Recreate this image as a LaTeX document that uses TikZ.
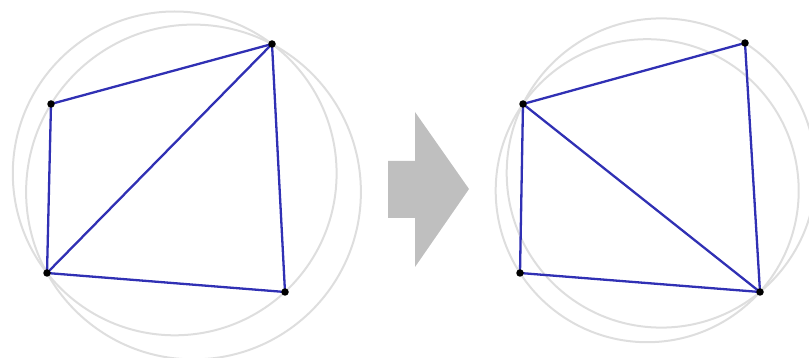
\documentclass[tikz,border=0pt]{standalone}
\begin{document}
\begin{tikzpicture}[x=1pt,y=-1pt,
  circ/.style={draw=black!13, line width=2pt},
  edge/.style={draw={rgb,255:red,48;green,48;blue,180}, line width=2.3pt},
  dot/.style={circle, fill=black, inner sep=0pt, minimum size=7.5pt},
  bigarrow/.style={fill=black!25, draw=none}]
\useasboundingbox (0,0) rectangle (809,358);
\begin{scope}
\clip (0,0) rectangle (809,358);
% left circumcircles
\draw[circ] (193.5,192) circle[radius=167.4];
\draw[circ] (174.7,173.4) circle[radius=161.9];
% right circumcircles
\draw[circ] (661.3,173) circle[radius=154.6];
\draw[circ] (647.2,190.7) circle[radius=151.5];
\end{scope}
% left quad
\coordinate (la) at (51,104);
\coordinate (lb) at (272,44);
\coordinate (lc) at (47,273);
\coordinate (ld) at (285,292);
\draw[edge] (la) -- (lb) -- (ld) -- (lc) -- cycle;
\draw[edge] (lc) -- (lb);
\foreach \p in {la,lb,lc,ld} \node[dot] (n\p) at (\p) {};
% arrow
\fill[bigarrow] (388,161) -- (415,161) -- (415,112) -- (469,189) -- (415,267) -- (415,218) -- (388,218) -- cycle;
% right quad
\coordinate (ra) at (523,104);
\coordinate (rb) at (745,43);
\coordinate (rc) at (520,273);
\coordinate (rd) at (760,292);
\draw[edge] (ra) -- (rb) -- (rd) -- (rc) -- cycle;
\draw[edge] (ra) -- (rd);
\foreach \p in {ra,rb,rc,rd} \node[dot] (n\p) at (\p) {};
\end{tikzpicture}
\end{document}
